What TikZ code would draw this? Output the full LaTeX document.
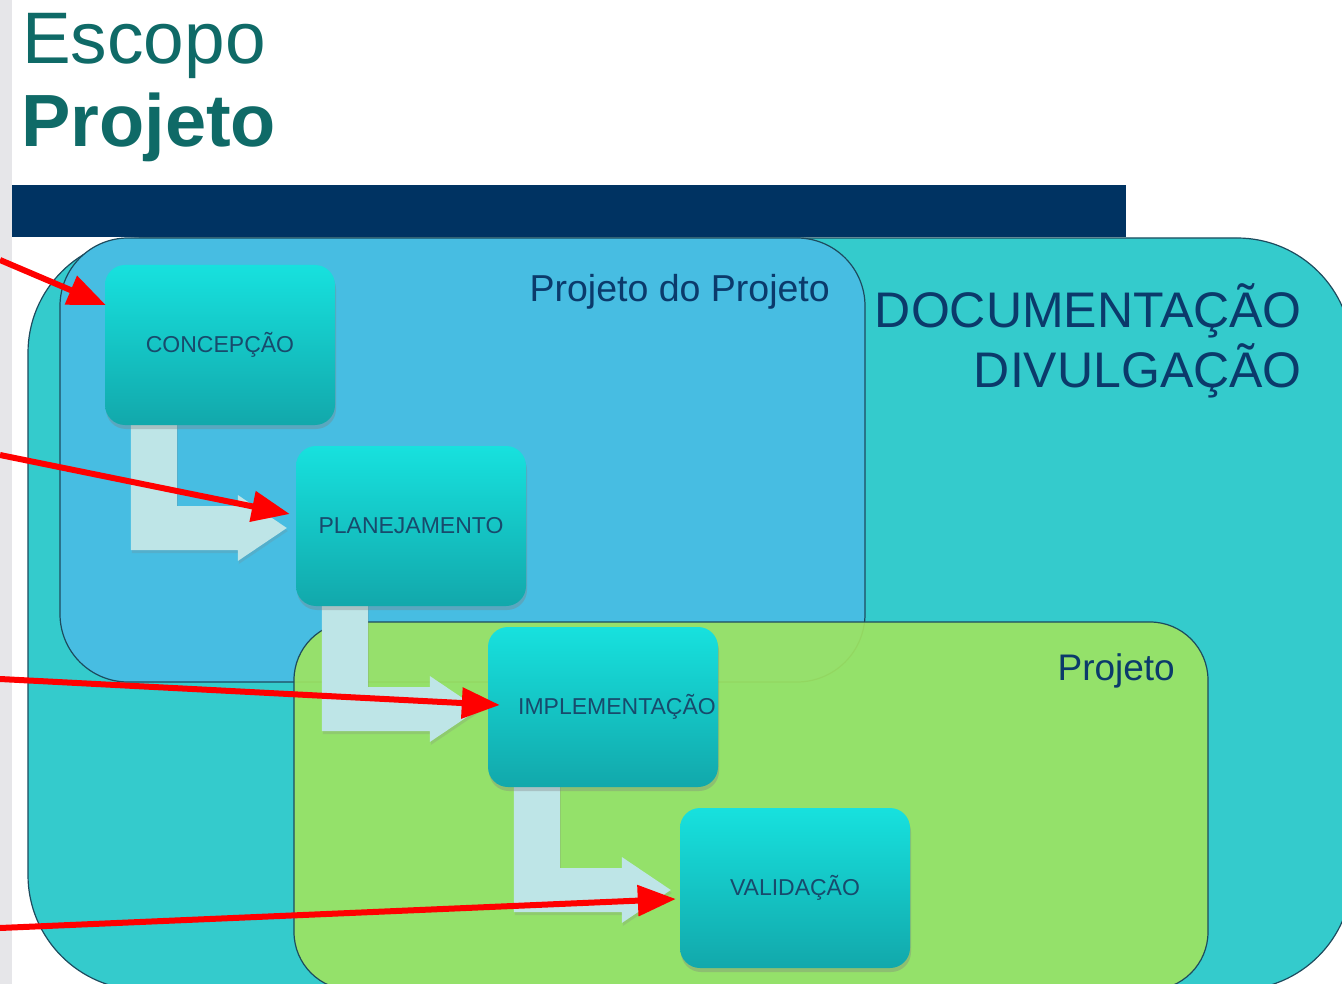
\documentclass[tikz,border=0pt]{standalone}
\usepackage{fontspec}
\setmainfont{Liberation Sans}
\usetikzlibrary{shadows,arrows.meta,calc}

\definecolor{sidegray}{HTML}{E6E6E9}
\definecolor{titleteal}{HTML}{0F6A67}
\definecolor{barnavy}{HTML}{003362}
\definecolor{docteal}{HTML}{34CBCC}
\definecolor{projblue}{HTML}{47BDE2}
\definecolor{projgreen}{HTML}{9DE362}
\definecolor{edgecol}{HTML}{1D4B5E}
\definecolor{boxtop}{HTML}{17E1DE}
\definecolor{boxbot}{HTML}{12A8AB}
\definecolor{boxtext}{HTML}{184A6C}
\definecolor{labelnavy}{HTML}{0B3A6B}
\definecolor{flowcol}{HTML}{BEE5E7}
\definecolor{pointred}{HTML}{FF0000}

\pgfdeclarelayer{back}
\pgfdeclarelayer{mid}
\pgfsetlayers{back,mid,main}

\tikzset{
  region/.style={draw=edgecol, line width=1.2pt},
  stage/.style={rectangle, rounded corners=20pt, minimum width=230pt,
    minimum height=160pt, inner sep=0pt, top color=boxtop, bottom color=boxbot,
    draw=none, text=boxtext, font=\fontsize{23}{27}\selectfont,
    drop shadow={shadow xshift=1pt, shadow yshift=-4pt, opacity=0.35}},
  flowfill/.style={fill=flowcol,
    drop shadow={shadow xshift=1pt, shadow yshift=-3pt, opacity=0.22}},
  redarrow/.style={draw=pointred, line width=6pt,
    -{Triangle[length=38pt, width=30pt]}},
  caption/.style={inner sep=0pt, text=labelnavy},
}

% bent "L" arrow leaving the bottom of box #1 and pointing at box #2
\newcommand\flowarrow[2]{%
  \path[flowfill] let \p1=(#1.south west), \p2=(#2.west) in
    (\x1+26pt,\y1+10pt) -- (\x1+26pt,\y2-24pt) -- (\x2-58pt,\y2-24pt)
    -- (\x2-58pt,\y2-35pt) -- (\x2-9pt,\y2-2pt) -- (\x2-58pt,\y2+31pt)
    -- (\x2-58pt,\y2+20pt) -- (\x1+72pt,\y2+20pt) -- (\x1+72pt,\y1+10pt)
    -- cycle;}

\begin{document}
\begin{tikzpicture}[x=1pt, y=-1pt]
\useasboundingbox (0,0) rectangle (1342,984);

\begin{pgfonlayer}{back}
  \fill[white] (0,0) rectangle (1342,984);
  \fill[sidegray] (0,0) rectangle (12,984);
  % nested scope regions
  \draw[region, fill=docteal, rounded corners=115pt] (28,238) rectangle (1352,990);
  \draw[region, fill=projblue, rounded corners=68pt] (60,238) rectangle (865,682);
  \draw[region, fill=projgreen, fill opacity=0.92, rounded corners=58pt]
    (294,622) rectangle (1208,990);
  \fill[barnavy] (12,185) rectangle (1126,237);
\end{pgfonlayer}

% title
\node[anchor=base west, inner sep=0pt, text=titleteal,
  font=\fontsize{73}{80}\selectfont] (t1) at (22,64) {Escopo};
\node[anchor=base west, inner sep=0pt, text=titleteal,
  font=\fontsize{74}{80}\selectfont\bfseries] (t2) at (21,147) {Projeto};

% region captions
\node[caption, anchor=base east, font=\fontsize{37.5}{40}\selectfont]
  (pp) at (830,302) {Projeto do Projeto};
\node[caption, anchor=base east, font=\fontsize{50}{53}\selectfont]
  (doc) at (1302,328) {DOCUMENTAÇÃO};
\node[caption, anchor=base east, font=\fontsize{50}{53}\selectfont]
  (div) at (1302,388) {DIVULGAÇÃO};
\node[caption, anchor=base east, font=\fontsize{37}{40}\selectfont]
  (pj) at (1175,680) {Projeto};

% project stages
\node[stage] (conc) at (220,345) {CONCEPÇÃO};
\node[stage] (plan) at (411,526) {PLANEJAMENTO};
\node[stage] (impl) at (603,707) {\hspace*{28pt}IMPLEMENTAÇÃO};
\node[stage] (val)  at (795,888) {VALIDAÇÃO};

\begin{pgfonlayer}{mid}
  \flowarrow{conc}{plan}
  \flowarrow{plan}{impl}
  \flowarrow{impl}{val}
\end{pgfonlayer}

% pointers coming in from the left margin
\coordinate (p1) at (0,260);
\coordinate (p2) at (0,455);
\coordinate (p3) at (0,679);
\coordinate (p4) at (0,928);
\draw[redarrow] (p1) -- ([xshift=1pt, yshift=40pt]conc.west);
\draw[redarrow] (p2) -- ([xshift=-6pt, yshift=12pt]plan.west);
\draw[redarrow] (p3) -- ([xshift=12pt, yshift=2pt]impl.west);
\draw[redarrow] (p4) -- ([xshift=-4pt, yshift=-11pt]val.west);
\end{tikzpicture}
\end{document}
